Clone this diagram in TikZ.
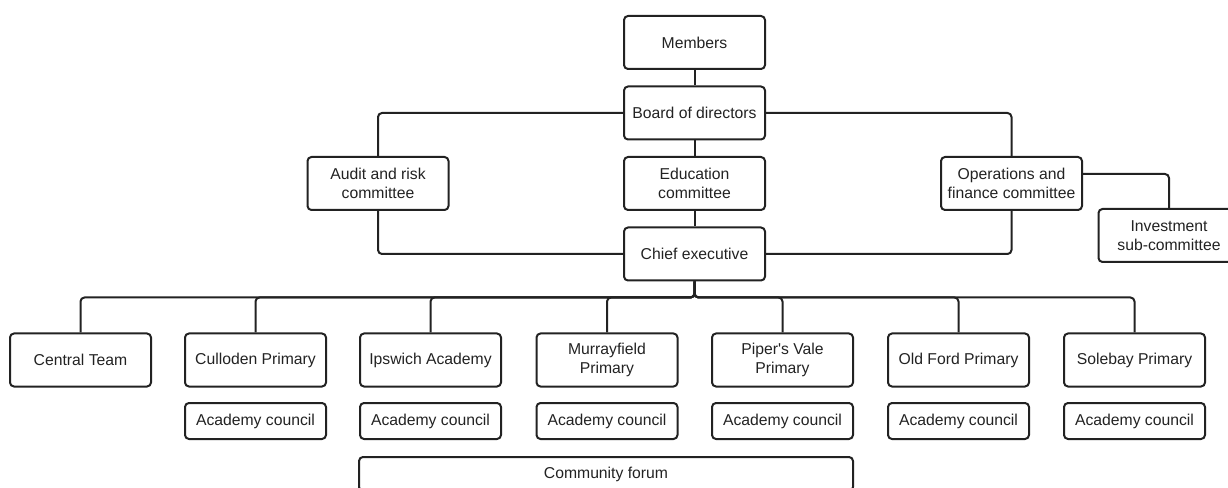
\documentclass[tikz,border=0pt]{standalone}
\usepackage{fontspec}
\setmainfont{Liberation Sans}
\usepackage{tikz}
\usetikzlibrary{positioning}
\definecolor{line-1}{RGB}{34,34,34}

\tikzset{
  orgbox/.style={draw=line-1, line width=1.5pt, rounded corners=3pt, inner sep=0pt, align=center,
                 minimum height=39.75pt, minimum width=105.75pt, text=line-1, font=\fontsize{11.8}{14.2}\selectfont},
  council/.style={orgbox, minimum height=27pt},
  link/.style={draw=line-1, line width=1.5pt, rounded corners=3pt},
}

\begin{document}
\begin{tikzpicture}[x=0.75pt, y=-0.75pt]
  \useasboundingbox (0,0) rectangle (1228,488);

  \node[orgbox] (mem)   at ( 694.5,  42.5) {Members};
  \node[orgbox] (board) at ( 694.5, 113  ) {Board of directors};
  \node[orgbox] (edu)   at ( 694.5, 183.5) {Education\\committee};
  \node[orgbox] (chief) at ( 694.5, 254  ) {Chief executive};
  \node[orgbox] (audit) at ( 378  , 183.5) {Audit and risk\\committee};
  \node[orgbox] (ops)   at (1011.5, 183.5) {Operations and\\finance committee};
  \node[orgbox] (inv)   at (1169  , 235.5) {Investment\\sub-committee};

  \node[orgbox] (cen)   at (  80.5, 360) {Central Team};
  \node[orgbox] (cul)   at ( 255.5, 360) {Culloden Primary};
  \node[orgbox] (ips)   at ( 430.5, 360) {Ipswich Academy};
  \node[orgbox] (mur)   at ( 607  , 360) {Murrayfield\\Primary};
  \node[orgbox] (pip)   at ( 782.5, 360) {Piper\textquotesingle s Vale\\Primary};
  \node[orgbox] (old)   at ( 958.5, 360) {Old Ford Primary};
  \node[orgbox] (sol)   at (1134.5, 360) {Solebay Primary};

  \node[council] (culc) at ( 255.5, 421) {Academy council};
  \node[council] (ipsc) at ( 430.5, 421) {Academy council};
  \node[council] (murc) at ( 607  , 421) {Academy council};
  \node[council] (pipc) at ( 782.5, 421) {Academy council};
  \node[council] (oldc) at ( 958.5, 421) {Academy council};
  \node[council] (solc) at (1134.5, 421) {Academy council};

  \node[council, minimum width=370.5pt, minimum height=25.5pt] (forum) at (606, 474) {Community forum};

  \coordinate (bus) at (694.5, 297.5);

  \draw[link] (mem)   -- (board);
  \draw[link] (board) -- (edu);
  \draw[link] (edu)   -- (chief);
  \draw[link] (board) -| (audit);
  \draw[link] (board) -| (ops);
  \draw[link] (audit) |- (chief);
  \draw[link] (ops)   |- (chief);
  \draw[link] (ops.east |- 0,174) -| (inv);

  \foreach \s in {cen, cul, ips, mur, pip, old, sol}
    \draw[link] (chief.south) -- (bus) -| (\s.north);
\end{tikzpicture}
\end{document}
